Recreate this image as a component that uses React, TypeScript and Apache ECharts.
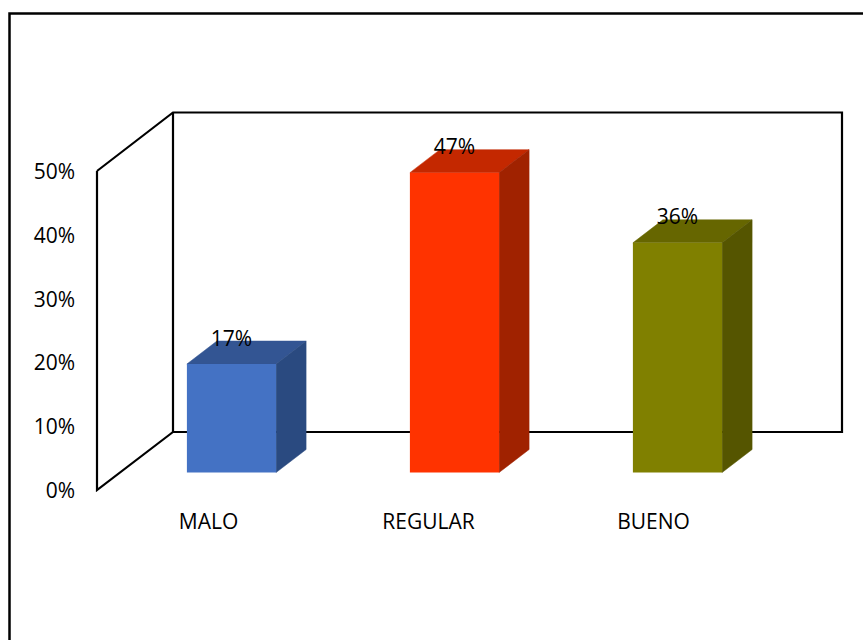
import React, { useEffect, useRef } from "react";
import * as echarts from "echarts";

const categories = ["MALO", "REGULAR", "BUENO"];
const categoryLabelNudge = [0, 6, 2];
const values = [17, 47, 36];
const valueLabels = ["17%", "47%", "36%"];
const frontColors = ["#4472C4", "#FF3300", "#808000"];
const topColors = ["#335593", "#C42800", "#666600"];
const sideColors = ["#2A4A80", "#A02200", "#555500"];

const FONT = "'Open Sans', sans-serif";
const DEPTH_X = 30;
const DEPTH_Y = 23;
const OFFSET_X = 23;
const OFFSET_Y = 18;

function renderBar(_params: any, api: any) {
  const i = api.value(0);
  const v = api.value(1);
  const base = api.coord([i, 0]);
  const top = api.coord([i, v]);
  const w = api.size([1, 0])[0] * 0.4;
  const x0 = base[0] + OFFSET_X - w / 2;
  const x1 = x0 + w;
  const yb = base[1] - OFFSET_Y + 0.5;
  const yt = top[1] - OFFSET_Y + 0.5;
  return {
    type: "group",
    children: [
      {
        type: "polygon",
        shape: { points: [[x0, yt], [x0 + DEPTH_X, yt - DEPTH_Y], [x1 + DEPTH_X, yt - DEPTH_Y], [x1, yt]] },
        style: { fill: topColors[i], stroke: topColors[i], lineWidth: 0.5 },
      },
      {
        type: "polygon",
        shape: { points: [[x1, yt], [x1 + DEPTH_X, yt - DEPTH_Y], [x1 + DEPTH_X, yb - DEPTH_Y], [x1, yb]] },
        style: { fill: sideColors[i], stroke: sideColors[i], lineWidth: 0.5 },
      },
      {
        type: "rect",
        shape: { x: x0, y: yt, width: w, height: yb - yt },
        style: { fill: frontColors[i] },
      },
      {
        type: "text",
        x: x0 + w / 2,
        y: yt - 26.5,
        style: {
          text: valueLabels[i],
          fill: "#000",
          font: `21px ${FONT}`,
          align: "center",
          verticalAlign: "middle",
        },
      },
    ],
  };
}

export default function App() {
  const ref = useRef<HTMLDivElement>(null);
  useEffect(() => {
    document.body.style.margin = "0";
    const chart = echarts.init(ref.current!, undefined, { renderer: "svg" });
    chart.setOption({
      animation: false,
      backgroundColor: "#fff",
      grid: { left: 97, top: 171, width: 669, height: 319, containLabel: false },
      xAxis: {
        type: "category",
        data: categories.map((c, i) => ({
          value: c,
          textStyle: { padding: [0, categoryLabelNudge[i], 0, 0] },
        })),
        axisLine: { show: false },
        axisTick: { show: false },
        splitLine: { show: false },
        axisLabel: { color: "#000", fontFamily: FONT, fontSize: 21, margin: 20 },
      },
      yAxis: {
        type: "value",
        min: 0,
        max: 50,
        interval: 10,
        axisLine: { show: false },
        axisTick: { show: false },
        splitLine: { show: false },
        axisLabel: { color: "#000", fontFamily: FONT, fontSize: 21, margin: 22, formatter: "{value}%" },
      },
      graphic: [
        {
          type: "rect",
          shape: { x: 9.5, y: 13.5, width: 900, height: 700 },
          style: { fill: "none", stroke: "#000", lineWidth: 2.5 },
        },
        {
          type: "polyline",
          shape: { points: [[97, 171], [173, 112.5], [842, 112.5], [842, 432], [173, 432], [97, 490], [97, 171]] },
          style: { fill: "none", stroke: "#000", lineWidth: 2.2 },
        },
        {
          type: "line",
          shape: { x1: 173, y1: 112.5, x2: 173, y2: 432 },
          style: { stroke: "#000", lineWidth: 2.2 },
        },
      ],
      series: [
        {
          type: "custom",
          renderItem: renderBar,
          clip: false,
          z: 5,
          encode: { x: 0, y: 1 },
          data: values.map((v, i) => [i, v]),
        },
      ],
    });
    return () => chart.dispose();
  }, []);
  return <div ref={ref} style={{ width: 863, height: 640 }} />;
}
